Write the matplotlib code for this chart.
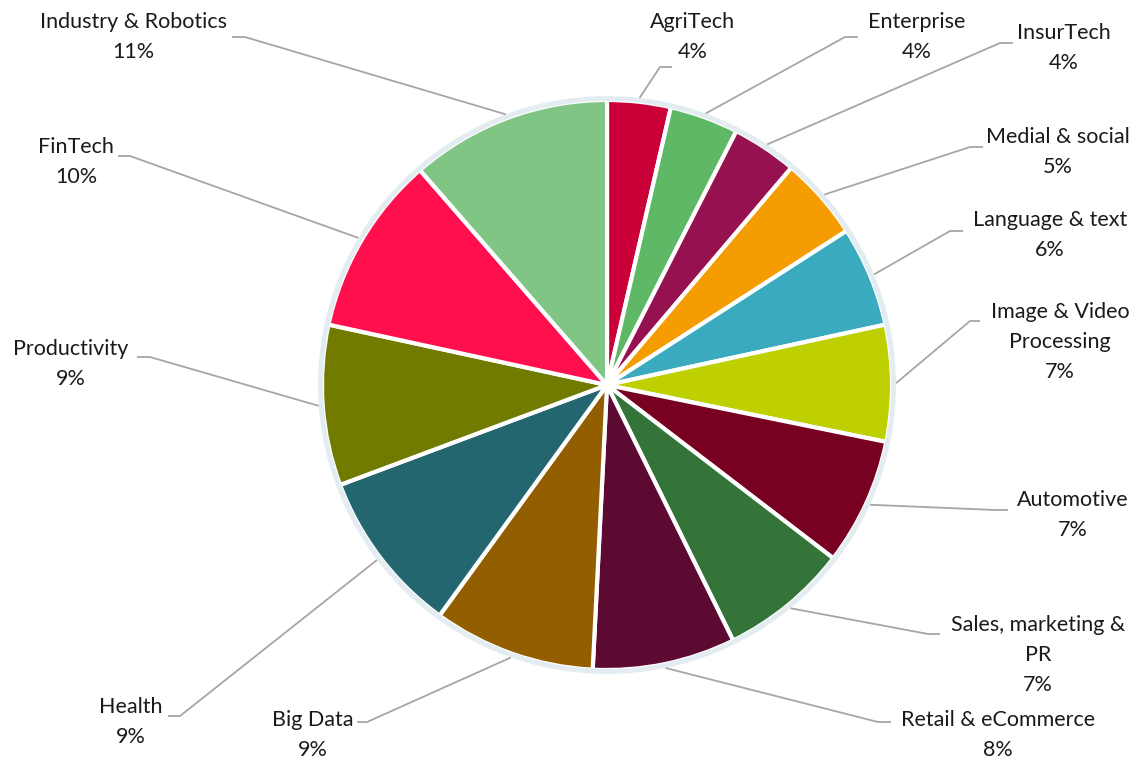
import matplotlib

matplotlib.use("Agg")
import matplotlib.pyplot as plt
import numpy as np
from matplotlib.patches import Circle

plt.rcParams["font.family"] = ["Lato", "DejaVu Sans"]

# ---------------------------------------------------------------------------
# data (clockwise from 12 o'clock)
# ---------------------------------------------------------------------------
names = [
    "AgriTech", "Enterprise", "InsurTech", "Medial & social",
    "Language & text", "Image & Video\nProcessing", "Automotive",
    "Sales, marketing &\nPR", "Retail & eCommerce", "Big Data", "Health",
    "Productivity", "FinTech", "Industry & Robotics",
]
shares = [3.6, 3.9, 3.7, 4.7, 5.7, 6.6, 7.2, 7.3, 8.1, 9.2, 9.3, 9.1, 10.2, 11.4]
colors = [
    "#CC0038", "#5FB866", "#96114F", "#F59C00", "#3AABBF", "#BED000",
    "#780020", "#347439", "#5C0A32", "#935E00", "#236670", "#717B00",
    "#FF0F4E", "#80C584",
]

# label layout, pixel coords (y down): text centre x, first line centre y,
# and the short horizontal leader segment (text end, elbow)
label_pos = [
    (693, 22), (917, 22), (1064, 33), (1058, 137), (1050, 220), (1060, 312),
    (1073, 500), (1038, 625), (998, 720), (313, 720), (131, 707), (71, 349),
    (76, 147), (133, 22),
]
leader = [
    ((672, 67), (660, 67)), ((858, 37), (845, 37)), ((1013, 43), (1000, 43)),
    ((983, 147), (970, 147)), ((963, 231), (950, 231)), ((980, 321), (970, 321)),
    ((1008, 510), (995, 510)), ((940, 634), (928, 634)), ((891, 722), (878, 722)),
    ((357, 722), (367, 722)), ((168, 716), (180, 716)), ((137, 357), (150, 357)),
    ((118, 156), (130, 156)), ((232, 37), (245, 37)),
]

W, H = 1139, 760
CX, CY, R = 607, 385, 285
LINE = 30  # px between text lines

fig = plt.figure(figsize=(W / 100, H / 100), dpi=100)
ax = fig.add_axes([0, 0, 1, 1])


def py(y):
    return H - y


wedges, _ = ax.pie(
    shares, colors=colors, startangle=90, counterclock=False,
    center=(CX, py(CY)), radius=R, frame=True,
    wedgeprops=dict(edgecolor="white", linewidth=3),
)
ax.set_xlim(0, W)
ax.set_ylim(0, H)
ax.axis("off")
ax.add_patch(Circle((CX, py(CY)), R + 1.5, fill=False, edgecolor="#E2ECF1", lw=3.5))

total = sum(shares)
for w, name, v, (tx, ty), (p0, p1) in zip(wedges, names, shares, label_pos, leader):
    mid = np.deg2rad((w.theta1 + w.theta2) / 2)
    ax_x = CX + (R + 4) * np.cos(mid)
    ax_y = py(CY) + (R + 4) * np.sin(mid)
    ax.plot([p0[0], p1[0], ax_x], [py(p0[1]), py(p1[1]), ax_y],
            color="#A6A6A6", lw=1.3, solid_capstyle="butt")
    lines = name.split("\n") + [f"{v / total * 100:.0f}%"]
    for i, s in enumerate(lines):
        ax.text(tx, py(ty + i * LINE), s, ha="center", va="center",
                fontsize=15.5, color="#1A1A1A")

fig.savefig("out.png", dpi=100)
